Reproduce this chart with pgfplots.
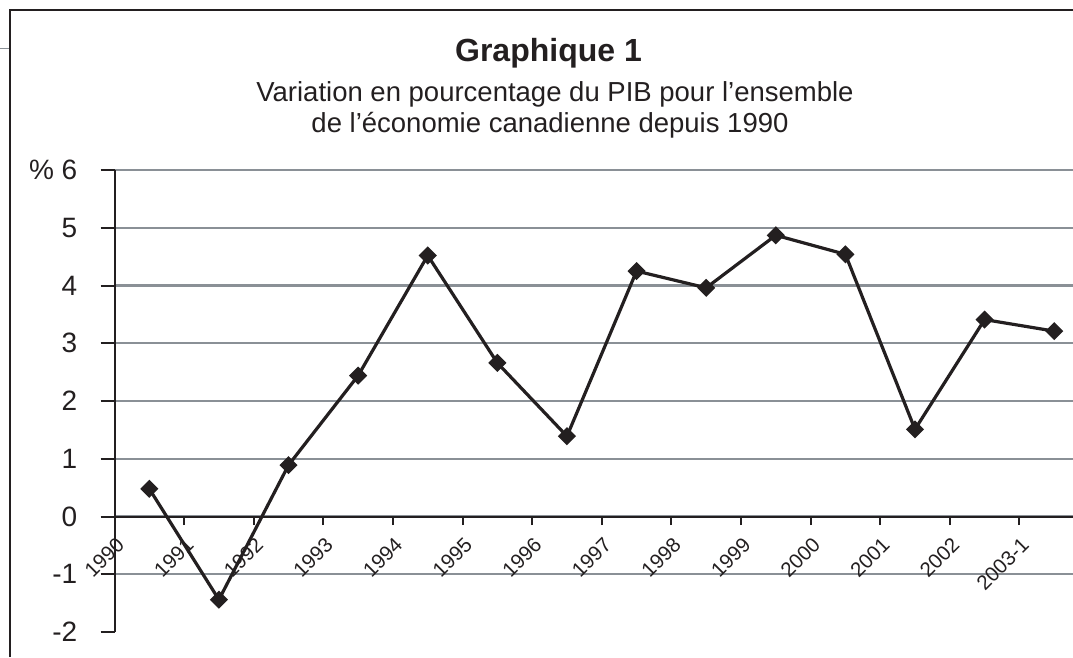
\documentclass[border=0pt]{standalone}
\usepackage{fontspec}
\setmainfont{Liberation Sans}
\usepackage{pgfplots}
\pgfplotsset{compat=1.18}
\definecolor{ink}{HTML}{231F20}
\definecolor{gridgray}{HTML}{8A9096}

\begin{document}
\begin{tikzpicture}[x=1pt,y=1pt]
\useasboundingbox (0,0) rectangle (1073,-657);
\draw[ink, line width=2pt] (9.5,-657) -- (9.5,-9.5) -- (1073,-9.5);
\draw[gridgray, line width=1.5pt] (0,-48.3) -- (9,-48.3);
\node[font=\fontsize{32}{34}\selectfont\bfseries, anchor=base, text=ink, inner sep=0pt] at (548.5,-61) {Graphique 1};
\node[font=\fontsize{27.5}{31}\selectfont, anchor=base, text=ink, inner sep=0pt] at (555,-101.5) {Variation en pourcentage du PIB pour l’ensemble};
\node[font=\fontsize{27.5}{31}\selectfont, anchor=base, text=ink, inner sep=0pt] at (550,-132) {de l’économie canadienne depuis 1990};
\begin{axis}[
  at={(114.5pt,-632pt)}, anchor=south west,
  width=958.5pt, height=462pt, scale only axis,
  xmin=0, xmax=13.77, ymin=-2, ymax=6,
  axis y line=left, axis x line=middle,
  axis line style={ink, line width=2pt, -},
  hide obscured x ticks=false,
  tick align=outside,
  xtick={0,...,13},
  xticklabels={1990,1991,1992,1993,1994,1995,1996,1997,1998,1999,2000,2001,2002,2003-1},
  ytick={-1,0,...,6},
  yticklabels={-1,0,1,2,3,4,5,\% 6},
  extra y ticks={-2},
  extra y tick labels={-2},
  extra y tick style={grid=none},
  ymajorgrids,
  major grid style={gridgray, line width=2.2pt},
  major tick length=14pt,
  tick style={ink, line width=2pt},
  xtick style={/pgfplots/major tick length=8.7pt},
  yticklabel style={font=\fontsize{28}{28}\selectfont, text=ink, anchor=east, inner sep=0pt, xshift=-23pt},
  xticklabel style={font=\fontsize{20.5}{20.5}\selectfont, text=ink, xshift=6pt, yshift=-11pt, rotate=45, anchor=east, inner sep=0pt},
  /pgf/number format/assume math mode=true,
]
\addplot[ink, line width=3.2pt, mark=square*, mark size=4.8pt, mark options={rotate=45, solid}]
  coordinates {(0.5,0.48) (1.5,-1.44) (2.5,0.89) (3.5,2.44) (4.5,4.52) (5.5,2.66) (6.5,1.39)
               (7.5,4.25) (8.5,3.96) (9.5,4.87) (10.5,4.54) (11.5,1.51) (12.5,3.41) (13.5,3.21)};
\end{axis}
\end{tikzpicture}
\end{document}
